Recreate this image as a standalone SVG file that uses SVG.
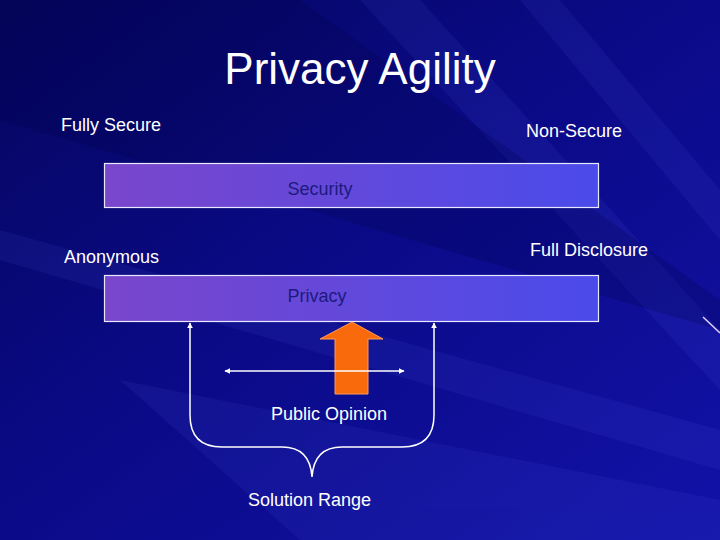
<svg xmlns="http://www.w3.org/2000/svg" width="720" height="540" viewBox="0 0 720 540">
  <defs>
    <linearGradient id="bg" x1="0" y1="0" x2="1" y2="1">
      <stop offset="0" stop-color="#05055e"/>
      <stop offset="0.45" stop-color="#0a0a86"/>
      <stop offset="1" stop-color="#1212a8"/>
    </linearGradient>
    <linearGradient id="box" x1="0" y1="0" x2="1" y2="0">
      <stop offset="0" stop-color="#7a46cc"/>
      <stop offset="1" stop-color="#4a4bea"/>
    </linearGradient>
    <marker id="ah" viewBox="0 0 10 10" refX="9" refY="5" markerWidth="4" markerHeight="4" orient="auto-start-reverse">
      <path d="M0,0 L10,5 L0,10 z" fill="#ffffff"/>
    </marker>
    <style>
      .t { font-family: "Liberation Sans", Arial, sans-serif; fill: #ffffff; font-size: 18px; }
      .bt { font-family: "Liberation Sans", Arial, sans-serif; fill: #1c1a80; font-size: 18px; text-anchor: middle; }
      .bar { fill: url(#box); stroke: #e8e8ff; stroke-width: 1.2; }
      .wl { fill: none; stroke: #ffffff; stroke-width: 1.5; }
    </style>
  </defs>

  <rect width="720" height="540" fill="url(#bg)"/>
  <g opacity="0.08" fill="#6a7aff">
    <polygon points="360,0 420,0 720,330 720,390"/>
    <polygon points="520,0 560,0 720,190 720,240"/>
    <polygon points="0,230 0,260 720,470 720,430"/>
    <polygon points="120,380 720,500 720,540 300,540"/>
  </g>
  <g opacity="0.2" fill="#000040">
    <polygon points="0,0 300,0 720,300 720,330 0,120"/>
  </g>
  <line x1="703" y1="317" x2="720" y2="333" stroke="#e0d0ff" stroke-width="1.5"/>

  <text class="t" x="360" y="84" text-anchor="middle" style="font-size:44px">Privacy Agility</text>

  <g id="fully-secure"><text class="t" x="61" y="131">Fully Secure</text></g>
  <g id="non-secure"><text class="t" x="526" y="137">Non-Secure</text></g>

  <g id="security">
    <rect class="bar" x="104.5" y="163.5" width="494" height="44"/>
    <text class="bt" x="320" y="195">Security</text>
  </g>

  <g id="anonymous"><text class="t" x="64" y="263">Anonymous</text></g>
  <g id="full-disclosure"><text class="t" x="530" y="256">Full Disclosure</text></g>

  <g id="privacy">
    <rect class="bar" x="104.5" y="275.5" width="494" height="46"/>
    <text class="bt" x="317" y="302">Privacy</text>
  </g>

  <g id="public-opinion">
    <polygon points="352,322 383,339 368,339 368,394 335,394 335,339 320,339" fill="#f86a0c" stroke="#ff9a55" stroke-width="1"/>
    <text class="t" x="271" y="420">Public Opinion</text>
  </g>

  <g id="solution-range">
    <text class="t" x="248" y="506">Solution Range</text>
  </g>

  <g id="connectors">
    <line class="wl" x1="225" y1="371" x2="404" y2="371" marker-start="url(#ah)" marker-end="url(#ah)"/>
    <path class="wl" d="M190,323 L190,415 Q190,447 222,447 L282,447 Q310,447 312,477 Q314,447 342,447 L402,447 Q434,447 434,415 L434,323" marker-start="url(#ah)" marker-end="url(#ah)"/>
  </g>
</svg>
